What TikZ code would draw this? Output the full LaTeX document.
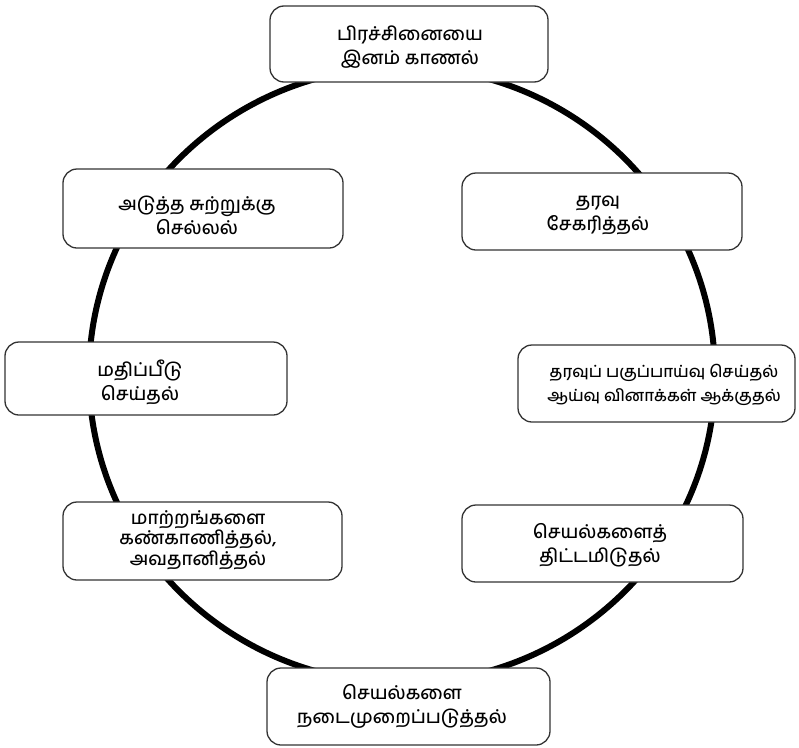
\documentclass[tikz,border=0pt]{standalone}
\usepackage{fontspec}
\newfontfamily\tam[Script=Tamil]{Hind Madurai Medium}
\begin{document}
\begin{tikzpicture}[x=1pt,y=-1pt,
  stagebox/.style={draw=black!80, line width=1.3pt, rounded corners=14pt, fill=white, inner sep=0pt},
  lbl/.style={font=\tam\fontsize{18.5}{24}\selectfont, align=center, inner sep=0pt},
  ring/.style={line width=6pt, black}]
\useasboundingbox (0,0) rectangle (799,747);
\fill[white] (0,0) rectangle (799,747);
\draw[ring] (402,375) ellipse [x radius=313, y radius=308];
% boxes
\node[stagebox, minimum width=278pt, minimum height=76pt] (b1) at (409,44) {};
\node[stagebox, minimum width=280pt, minimum height=79pt] (b2) at (203,208.5) {};
\node[stagebox, minimum width=280pt, minimum height=77pt] (b3) at (602,211.5) {};
\node[stagebox, minimum width=282pt, minimum height=73pt] (b4) at (146,378.5) {};
\node[stagebox, minimum width=277pt, minimum height=77pt] (b5) at (656.5,383.5) {};
\node[stagebox, minimum width=279pt, minimum height=78pt] (b6) at (202.5,541) {};
\node[stagebox, minimum width=281pt, minimum height=77pt] (b7) at (602.5,543.5) {};
\node[stagebox, minimum width=283pt, minimum height=77pt] (b8) at (408.5,706.5) {};
% texts
\node[lbl] (t1) at (410,47) {பிரச்சினையை\\இனம் காணல்};
\node[lbl] (t2) at (197,215) {அடுத்த சுற்றுக்கு\\செல்லல்};
\node[lbl] (t3) at (598,215) {தரவு\\சேகரித்தல்};
\node[lbl] (t4) at (140,382) {மதிப்பீடு\\செய்தல்};
\node[lbl, font=\tam\fontsize{16.3}{24}\selectfont] (t5) at (664,385) {தரவுப் பகுப்பாய்வு செய்தல்\\ஆய்வு வினாக்கள் ஆக்குதல்};
\node[lbl, font=\tam\fontsize{18.5}{20.5}\selectfont] (t6) at (198,540) {மாற்றங்களை\\கண்காணித்தல்,\\அவதானித்தல்};
\node[lbl] (t7) at (600,545) {செயல்களைத்\\திட்டமிடுதல்};
\node[lbl] (t8) at (402,706) {செயல்களை\\நடைமுறைப்படுத்தல்};
\end{tikzpicture}
\end{document}
